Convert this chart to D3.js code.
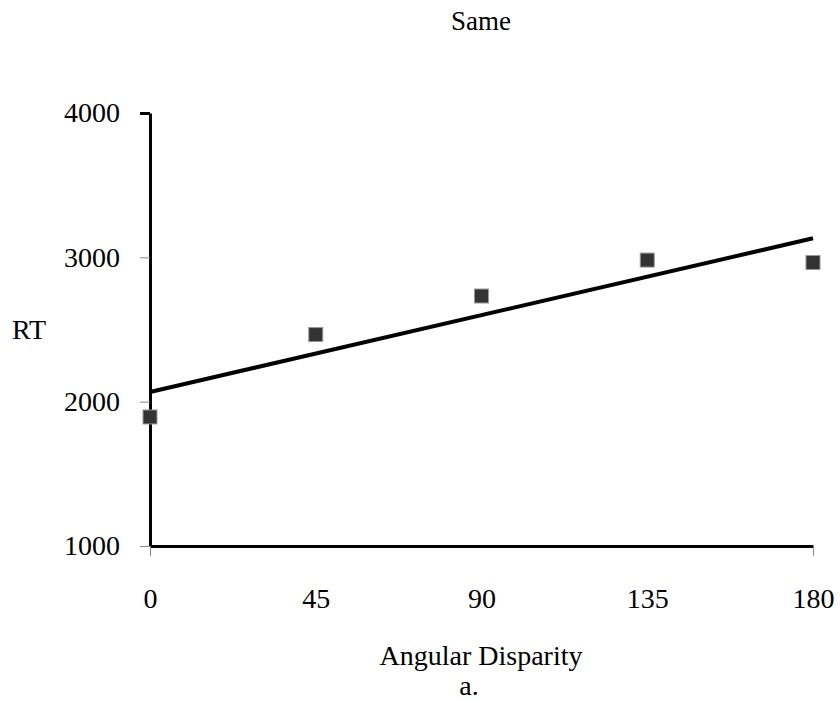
<!DOCTYPE html>
<html>
<head>
<meta charset="utf-8">
<script src="https://cdn.jsdelivr.net/npm/d3@7"></script>
<style>
  body { margin: 0; background: #fff; }
  svg { display: block; }
  text { font-family: "Liberation Serif", "Times New Roman", serif; fill: #000; }
</style>
</head>
<body>
<svg id="chart" width="840" height="702"></svg>
<script>
// values
var angles = [0, 45, 90, 135, 180];
var rt = [1894, 2465, 2732, 2981, 2964];
var trendAngles = [0, 180];
var trendRt = [2067, 3132];
var yTicks = [1000, 2000, 3000, 4000];
var xTicks = [0, 45, 90, 135, 180];

var svg = d3.select("#chart");

var x = d3.scaleLinear().domain([0, 180]).range([150, 813]);
var y = d3.scaleLinear().domain([1000, 4000]).range([546, 113]);

// title
svg.append("text")
    .attr("x", 481).attr("y", 30)
    .attr("text-anchor", "middle")
    .attr("font-size", "27px")
    .text("Same");

// y axis
var yAxis = svg.append("g")
    .attr("transform", "translate(" + x(0) + ",0)")
    .call(d3.axisLeft(y).tickValues(yTicks).tickSizeInner(10).tickSizeOuter(0).tickPadding(20).tickFormat(d3.format("d")));
yAxis.select(".domain").attr("stroke", "#000").attr("stroke-width", 3);
yAxis.selectAll(".tick line").attr("stroke", "#888").attr("stroke-width", 1);
yAxis.selectAll(".tick").filter(d => d === 4000).select("line")
    .attr("stroke", "#000").attr("stroke-width", 3).attr("x2", -10);
yAxis.selectAll(".tick text")
    .attr("font-family", "Liberation Serif, Times New Roman, serif")
    .attr("font-size", "28px").attr("fill", "#000");

// x axis
var xAxis = svg.append("g")
    .attr("transform", "translate(0," + y(1000) + ")")
    .call(d3.axisBottom(x).tickValues(xTicks).tickSizeInner(10).tickSizeOuter(0).tickPadding(32));
xAxis.select(".domain").attr("stroke", "#000").attr("stroke-width", 3);
xAxis.selectAll(".tick line").attr("stroke", "#888").attr("stroke-width", 1)
    .attr("opacity", d => (d === 0 || d === 180) ? 1 : 0);
xAxis.selectAll(".tick text")
    .attr("font-family", "Liberation Serif, Times New Roman, serif")
    .attr("font-size", "28px").attr("fill", "#000");

// trend line
var line = d3.line().x(d => x(d[0])).y(d => y(d[1]));
svg.append("path")
    .datum(d3.zip(trendAngles, trendRt))
    .attr("d", line)
    .attr("fill", "none")
    .attr("stroke", "#000")
    .attr("stroke-width", 4);

// markers
svg.selectAll(".pt")
    .data(d3.zip(angles, rt))
    .enter().append("rect")
    .attr("class", "pt")
    .attr("x", d => x(d[0]) - 7)
    .attr("y", d => y(d[1]) - 7)
    .attr("width", 14).attr("height", 14)
    .attr("fill", "#333")
    .attr("stroke", "#999")
    .attr("stroke-width", 1);

// axis titles
svg.append("text")
    .attr("x", 12).attr("y", 339)
    .attr("font-size", "28px")
    .text("RT");

svg.append("text")
    .attr("x", 481).attr("y", 665)
    .attr("text-anchor", "middle")
    .attr("font-size", "28px")
    .text("Angular Disparity");

svg.append("text")
    .attr("x", 469).attr("y", 695)
    .attr("text-anchor", "middle")
    .attr("font-size", "28px")
    .text("a.");
</script>
</body>
</html>
